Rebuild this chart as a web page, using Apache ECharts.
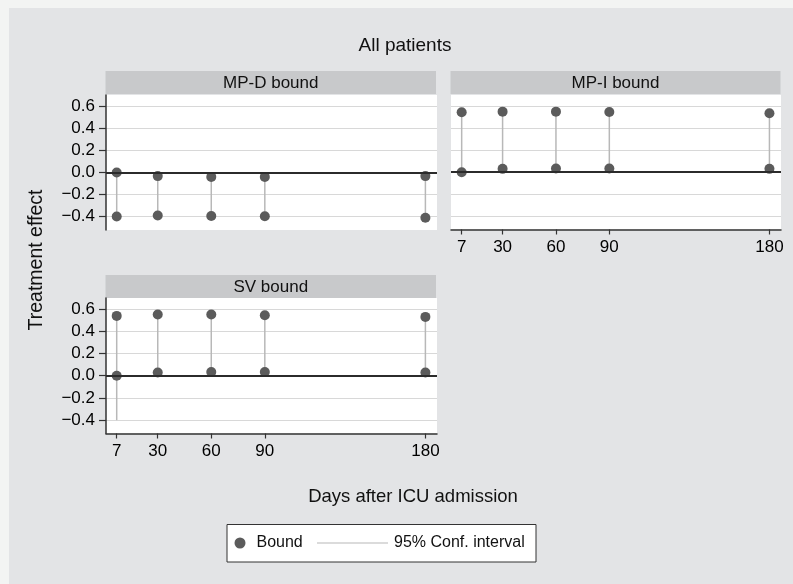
<!DOCTYPE html>
<html>
<head>
<meta charset="utf-8">
<script src="https://cdn.jsdelivr.net/npm/echarts@6/dist/echarts.min.js"></script>
<style>
  html, body { margin: 0; padding: 0; background: #f3f4f3; }
  #chart { width: 793px; height: 584px; }
</style>
</head>
<body>
<div id="chart"></div>
<script>
// days after ICU admission
const days = [7, 30, 60, 90, 180];
const yTicks = [-0.4, -0.2, 0, 0.2, 0.4, 0.6];

// MP-D bound
const mpdBoundUpper = [0.00, -0.033, -0.04, -0.04, -0.033];
const mpdBoundLower = [-0.398, -0.389, -0.393, -0.395, -0.41];
const mpdCiLow = [-0.398, -0.389, -0.393, -0.395, -0.41];
const mpdCiHigh = [0.00, -0.033, -0.04, -0.04, -0.033];

// MP-I bound
const mpiBoundUpper = [0.543, 0.549, 0.549, 0.546, 0.534];
const mpiBoundLower = [0.00, 0.030, 0.033, 0.033, 0.030];
const mpiCiLow = [0.00, 0.030, 0.033, 0.033, 0.030];
const mpiCiHigh = [0.543, 0.549, 0.549, 0.546, 0.534];

// SV bound
const svBoundUpper = [0.539, 0.551, 0.551, 0.545, 0.530];
const svBoundLower = [0.00, 0.030, 0.033, 0.033, 0.030];
const svCiLow = [-0.40, 0.030, 0.033, 0.033, 0.030];
const svCiHigh = [0.539, 0.551, 0.551, 0.545, 0.530];

const FONT = "'Liberation Sans', Arial, Helvetica, sans-serif";

const chart = echarts.init(document.getElementById('chart'), null, { renderer: 'canvas' });

function fmtY(v) {
  const a = Math.abs(v).toFixed(1);
  return v < -1e-9 ? '\u2212' + a : a;
}

function xAxisFor(idx, showAxis) {
  return {
    type: 'value', gridIndex: idx, min: 1, max: 186.5,
    axisLine: { show: showAxis, onZero: false, lineStyle: { color: '#333', width: 1.5 } },
    axisTick: { show: showAxis, length: 5, customValues: days, lineStyle: { color: '#333', width: 1.2 } },
    axisLabel: { show: showAxis, customValues: days, margin: 9, color: '#000', fontSize: 17, fontFamily: FONT },
    splitLine: { show: false }
  };
}

function yAxisFor(idx, showAxis) {
  return {
    type: 'value', gridIndex: idx, min: -0.52, max: 0.70,
    axisLine: { show: showAxis, lineStyle: { color: '#333', width: 1.5 } },
    axisTick: { show: showAxis, length: 7, customValues: yTicks, lineStyle: { color: '#333', width: 1.2 } },
    axisLabel: { show: showAxis, customValues: yTicks, margin: 11, color: '#000', fontSize: 17, fontFamily: FONT, formatter: fmtY },
    splitLine: { show: true, customValues: yTicks, lineStyle: { color: '#d8d8d8', width: 1 } }
  };
}

function ciSeries(idx, lo, hi) {
  return {
    name: '95% Conf. interval', type: 'custom', xAxisIndex: idx, yAxisIndex: idx, z: 2,
    itemStyle: { color: '#b8b8b8' },
    encode: { x: 0, y: [1, 2] },
    data: days.map((d, i) => [d, lo[i], hi[i]]),
    renderItem(params, api) {
      const p1 = api.coord([api.value(0), api.value(1)]);
      const p2 = api.coord([api.value(0), api.value(2)]);
      return {
        type: 'line',
        shape: { x1: p1[0], y1: p1[1], x2: p2[0], y2: p2[1] },
        style: { stroke: '#b8b8b8', lineWidth: 1.5 }
      };
    },
    markLine: {
      silent: true, symbol: 'none', label: { show: false },
      lineStyle: { color: '#2b2b2b', width: 2, type: 'solid' },
      data: [{ yAxis: 0 }]
    }
  };
}

function boundSeries(idx, up, low) {
  const pts = [];
  days.forEach((d, i) => { pts.push([d, up[i]]); pts.push([d, low[i]]); });
  return {
    name: 'Bound', type: 'scatter', xAxisIndex: idx, yAxisIndex: idx, z: 3,
    symbol: 'circle', symbolSize: 10,
    itemStyle: { color: '#5b5b5b', opacity: 1 },
    data: pts
  };
}

function strip(x, y, w, label) {
  return {
    type: 'group', x: x, y: y,
    children: [
      { type: 'rect', shape: { x: 0, y: 0, width: w, height: 23 }, style: { fill: '#c8c9cb' } },
      { type: 'text', x: w / 2, y: 12, style: { text: label, fill: '#111', font: '17px ' + FONT, textAlign: 'center', textVerticalAlign: 'middle' } }
    ]
  };
}

const option = {
  backgroundColor: '#f3f4f3',
  animation: false,
  textStyle: { fontFamily: FONT },
  title: [
    { text: 'All patients', left: 400, top: 31, textAlign: 'center',
      textStyle: { fontSize: 19, fontWeight: 'normal', color: '#111', fontFamily: FONT } },
    { text: 'Days after ICU admission', left: 408, top: 482, textAlign: 'center',
      textStyle: { fontSize: 18.5, fontWeight: 'normal', color: '#111', fontFamily: FONT } }
  ],
  graphic: [
    { type: 'rect', z: -10, shape: { x: 9, y: 8, width: 784, height: 576 }, style: { fill: '#e3e4e6' } },
    strip(105.5, 71, 330.5, 'MP-D bound'),
    strip(450.5, 71, 330, 'MP-I bound'),
    strip(105.5, 275, 330.5, 'SV bound'),
    { type: 'text', x: 37, y: 260, rotation: Math.PI / 2,
      style: { text: 'Treatment effect', fill: '#111', font: '19.5px ' + FONT, textAlign: 'center', textVerticalAlign: 'middle' } },
    { type: 'rect', z: -5, shape: { x: 227, y: 524.5, width: 309, height: 37.5 },
      style: { fill: '#fff', stroke: '#333', lineWidth: 1 } }
  ],
  legend: [
    { data: [{ name: 'Bound', icon: 'circle' }], left: 234.5, top: 535, itemWidth: 11, itemHeight: 11, itemGap: 0,
      selectedMode: false, padding: 0, textStyle: { fontSize: 16, color: '#111', fontFamily: FONT, padding: [0, 0, 0, 6] } },
    { data: [{ name: '95% Conf. interval', icon: 'rect' }], left: 317, top: 535, itemWidth: 71, itemHeight: 1.2, itemGap: 0,
      selectedMode: false, padding: 0, textStyle: { fontSize: 16, color: '#111', fontFamily: FONT, padding: [0, 0, 0, 1] } }
  ],
  grid: [
    { left: 106, top: 95, width: 331, height: 135, show: true, backgroundColor: '#fff', borderWidth: 0 },
    { left: 451, top: 95, width: 330, height: 134.5, show: true, backgroundColor: '#fff', borderWidth: 0 },
    { left: 106, top: 298, width: 331, height: 135.5, show: true, backgroundColor: '#fff', borderWidth: 0 }
  ],
  xAxis: [xAxisFor(0, false), xAxisFor(1, true), xAxisFor(2, true)],
  yAxis: [yAxisFor(0, true), yAxisFor(1, false), yAxisFor(2, true)],
  series: [
    ciSeries(0, mpdCiLow, mpdCiHigh),
    boundSeries(0, mpdBoundUpper, mpdBoundLower),
    ciSeries(1, mpiCiLow, mpiCiHigh),
    boundSeries(1, mpiBoundUpper, mpiBoundLower),
    ciSeries(2, svCiLow, svCiHigh),
    boundSeries(2, svBoundUpper, svBoundLower)
  ]
};

chart.setOption(option);
</script>
</body>
</html>
